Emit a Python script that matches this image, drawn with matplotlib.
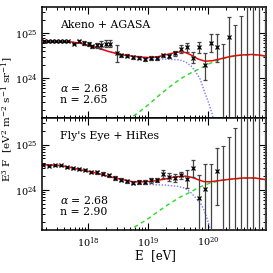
import numpy as np
import matplotlib
matplotlib.use("Agg")
import matplotlib.pyplot as plt
from matplotlib.ticker import LogLocator, NullFormatter

plt.rcParams['font.family'] = ['DejaVu Serif']
plt.rcParams['mathtext.fontset'] = 'dejavuserif'

# ---- top panel: Akeno + AGASA (log10 E, log10 E^3 F) ----
ak_logE = [17.27, 17.33, 17.40, 17.47, 17.53, 17.60, 17.67, 17.77, 17.85, 17.93,
           18.01, 18.07, 18.15, 18.22, 18.30, 18.37, 18.48]
ak_logF = [24.82, 24.82, 24.82, 24.82, 24.82, 24.82, 24.82, 24.77, 24.82, 24.78,
           24.76, 24.71, 24.73, 24.74, 24.77, 24.77, 24.56]
ak_err = [0.01, 0.01, 0.01, 0.01, 0.01, 0.01, 0.01, 0.015, 0.02, 0.04,
          0.04, 0.04, 0.05, 0.09, 0.08, 0.085, 0.19]

ag_logE = [18.55, 18.65, 18.75, 18.85, 18.95, 19.05, 19.15, 19.25, 19.35, 19.45,
           19.55, 19.65, 19.75, 19.85, 19.95, 20.05, 20.15, 20.35]
ag_logF = [24.51, 24.50, 24.47, 24.46, 24.42, 24.45, 24.44, 24.51, 24.50, 24.56,
           24.66, 24.69, 24.46, 24.69, 24.29, 24.79, 24.70, 24.92]
ag_lo = [24.475, 24.465, 24.435, 24.425, 24.385, 24.415, 24.405, 24.47, 24.455, 24.505,
         24.57, 24.59, 24.34, 24.57, 23.96, 24.58, 24.36, 20.0]
ag_hi = [24.545, 24.535, 24.505, 24.495, 24.455, 24.485, 24.475, 24.55, 24.545, 24.615,
         24.75, 24.79, 24.58, 24.81, 24.57, 24.99, 24.99, 25.36]
ag_bar_logE = [20.25, 20.45, 20.55, 20.65, 20.75, 20.85, 20.95]
ag_bar_top = [24.77, 25.18, 25.38, 25.9, 25.9, 25.9, 25.9]

# model curves, top
t_tot_logE = [17.23, 17.45, 17.70, 17.87, 18.08, 18.20, 18.33, 18.48, 18.62, 18.75,
              18.90, 19.03, 19.17, 19.32, 19.45, 19.55, 19.63, 19.73, 19.83, 19.95,
              20.07, 20.20, 20.37, 20.53, 20.73, 20.87, 20.97]
t_tot_logF = [24.82, 24.82, 24.81, 24.78, 24.71, 24.66, 24.60, 24.55, 24.51, 24.49,
              24.47, 24.46, 24.48, 24.53, 24.57, 24.59, 24.57, 24.51, 24.43, 24.38,
              24.39, 24.43, 24.485, 24.515, 24.53, 24.515, 24.49]
t_gal_logE = [17.23, 17.45, 17.70, 17.87, 18.08, 18.20, 18.33, 18.48, 18.62, 18.75,
              18.90, 19.03, 19.20, 19.37, 19.53, 19.63, 19.72, 19.80, 19.87, 19.95,
              20.02, 20.07, 20.10]
t_gal_logF = [24.82, 24.82, 24.81, 24.78, 24.71, 24.66, 24.60, 24.55, 24.50, 24.48,
              24.44, 24.43, 24.43, 24.42, 24.41, 24.36, 24.27, 24.13, 23.98, 23.67,
              23.42, 23.20, 23.02]
t_xg_logE = [18.67, 18.70, 18.87, 19.03, 19.20, 19.37, 19.53, 19.70, 19.87, 20.03,
             20.20, 20.37, 20.53, 20.73, 20.87, 20.97]
t_xg_logF = [23.04, 23.11, 23.27, 23.44, 23.64, 23.82, 23.98, 24.11, 24.22, 24.33,
             24.42, 24.478, 24.51, 24.527, 24.51, 24.49]

# ---- bottom panel: Fly's Eye + HiRes ----
fe_logE = [17.25, 17.35, 17.45, 17.55, 17.65, 17.75, 17.85, 17.95, 18.05, 18.15,
           18.25, 18.35, 18.45]
fe_logF = [24.55, 24.53, 24.54, 24.54, 24.50, 24.48, 24.46, 24.45, 24.40, 24.39,
           24.36, 24.32, 24.26]
fe_err = [0.01, 0.01, 0.01, 0.01, 0.012, 0.015, 0.015, 0.02, 0.025, 0.03,
          0.03, 0.035, 0.04]

hr_logE = [18.55, 18.65, 18.75, 18.85, 18.95, 19.05, 19.15, 19.25, 19.35, 19.45,
           19.55, 19.65, 19.75, 19.85, 19.95, 20.15]
hr_logF = [24.23, 24.19, 24.16, 24.18, 24.18, 24.21, 24.22, 24.35, 24.28, 24.26,
           24.32, 24.24, 24.48, 23.83, 24.03, 24.42]
hr_lo = [24.195, 24.155, 24.125, 24.135, 24.135, 24.165, 24.175, 24.265, 24.195, 24.175,
         24.235, 24.04, 24.29, 20.0, 20.0, 23.66]
hr_hi = [24.265, 24.225, 24.195, 24.225, 24.225, 24.255, 24.265, 24.435, 24.365, 24.345,
         24.405, 24.44, 24.67, 24.34, 24.565, 24.93]
hr_bar_logE = [20.05, 20.25, 20.35, 20.45, 20.55, 20.65, 20.75, 20.85, 20.95]
hr_bar_top = [24.58, 24.97, 25.17, 25.375, 25.9, 25.9, 25.9, 25.9, 25.9]

b_tot_logE = [17.23, 17.53, 17.73, 17.92, 18.12, 18.37, 18.57, 18.75, 18.95, 19.12,
              19.28, 19.45, 19.62, 19.73, 19.83, 19.93, 20.03, 20.17, 20.37, 20.58,
              20.78, 20.97]
b_tot_logF = [24.56, 24.54, 24.49, 24.43, 24.38, 24.29, 24.23, 24.18, 24.18, 24.205,
              24.24, 24.29, 24.305, 24.28, 24.23, 24.185, 24.18, 24.205, 24.238, 24.265,
              24.265, 24.227]
b_gal_logE = [17.23, 17.53, 17.73, 17.92, 18.12, 18.37, 18.45, 18.62, 18.78, 19.03,
              19.28, 19.50, 19.62, 19.70, 19.78, 19.87, 19.93, 19.98, 20.03, 20.06]
b_gal_logF = [24.56, 24.54, 24.49, 24.43, 24.38, 24.29, 24.26, 24.18, 24.13, 24.12,
              24.11, 24.08, 24.04, 23.96, 23.85, 23.72, 23.57, 23.39, 23.17, 22.99]
b_xg_logE = [18.67, 18.78, 18.97, 19.15, 19.33, 19.53, 19.70, 19.87, 20.03, 20.20,
             20.37, 20.58, 20.78, 20.97]
b_xg_logF = [23.08, 23.19, 23.34, 23.51, 23.675, 23.84, 23.95, 24.07, 24.15, 24.205,
             24.234, 24.26, 24.26, 24.223]


def p(v):
    return 10 ** np.asarray(v, dtype=float)


def draw_panel(ax, data, bars, curves, label, alpha_txt, n_txt):
    tot, gal, xg = curves
    ax.plot(p(gal[0]), p(gal[1]), color='#7a7aff', lw=1.0, ls=(0, (1, 1.2)), zorder=2)
    ax.plot(p(xg[0]), p(xg[1]), color='#22dd22', lw=1.0, ls=(0, (3, 2.5)), zorder=2)
    ax.plot(p(tot[0]), p(tot[1]), color='red', lw=1.1, zorder=3)
    for logE, logF, lo, hi in data:
        y = p(logF)
        ax.errorbar(p(logE), y, yerr=[y - p(lo), p(hi) - y], fmt='x', ms=2.6, mew=0.9,
                    color='k', ecolor='#444444', elinewidth=0.9, capsize=1.3,
                    capthick=0.8, zorder=4)
    bar_x, bar_top = bars
    top = p(bar_top)
    ax.errorbar(p(bar_x), top, yerr=[top - 1e20, np.zeros(len(top))], fmt='none',
                ecolor='#444444', elinewidth=0.9, capsize=1.3, capthick=0.8, zorder=4)
    ax.set_xscale('log')
    ax.set_yscale('log')
    ax.set_xlim(p(17.233), p(20.967))
    ax.set_ylim(p(23.12), p(25.585))
    ax.yaxis.set_major_locator(LogLocator(base=10, numticks=10))
    ax.yaxis.set_minor_locator(LogLocator(base=10, subs=np.arange(2, 10), numticks=20))
    ax.yaxis.set_minor_formatter(NullFormatter())
    ax.xaxis.set_minor_locator(LogLocator(base=10, subs=np.arange(2, 10), numticks=20))
    ax.xaxis.set_minor_formatter(NullFormatter())
    ax.tick_params(which='both', direction='in', top=True, right=True, labelsize=7)
    ax.tick_params(axis='y', pad=3)
    ax.tick_params(axis='x', pad=4)
    ax.tick_params(which='major', length=5, width=0.8)
    ax.tick_params(which='minor', length=2.5, width=0.7)
    for s in ax.spines.values():
        s.set_linewidth(1.1)
    ax.text(0.08, 0.84, label, transform=ax.transAxes, fontsize=7.8, va='center')
    ax.text(0.08, 0.27, alpha_txt, transform=ax.transAxes, fontsize=7.8, va='center')
    ax.text(0.08, 0.16, n_txt, transform=ax.transAxes, fontsize=7.8, va='center')


fig = plt.figure(figsize=(2.73, 2.73), dpi=100)
ax1 = fig.add_axes([0.154, 0.568, 0.8205, 0.4066])
ax2 = fig.add_axes([0.154, 0.1575, 0.8205, 0.4103])

top_data = [(ak_logE, ak_logF, np.subtract(ak_logF, ak_err), np.add(ak_logF, ak_err)),
            (ag_logE, ag_logF, ag_lo, ag_hi)]
bot_data = [(fe_logE, fe_logF, np.subtract(fe_logF, fe_err), np.add(fe_logF, fe_err)),
            (hr_logE, hr_logF, hr_lo, hr_hi)]

draw_panel(ax1, top_data, (ag_bar_logE, ag_bar_top),
           ((t_tot_logE, t_tot_logF), (t_gal_logE, t_gal_logF), (t_xg_logE, t_xg_logF)),
           'Akeno + AGASA', r'$\alpha$ = 2.68', 'n = 2.65')
draw_panel(ax2, bot_data, (hr_bar_logE, hr_bar_top),
           ((b_tot_logE, b_tot_logF), (b_gal_logE, b_gal_logF), (b_xg_logE, b_xg_logF)),
           "Fly's Eye + HiRes", r'$\alpha$ = 2.68', 'n = 2.90')
ax1.tick_params(labelbottom=False)

fig.text(0.568, 0.062, 'E  [eV]', ha='center', va='center', fontsize=8.5)
fig.text(0.03, 0.565, r'E$^3$ F  [eV$^2$ m$^{-2}$ s$^{-1}$ sr$^{-1}$]', rotation=90,
         ha='center', va='center', fontsize=7.5)

fig.savefig('out.png', dpi=100)
